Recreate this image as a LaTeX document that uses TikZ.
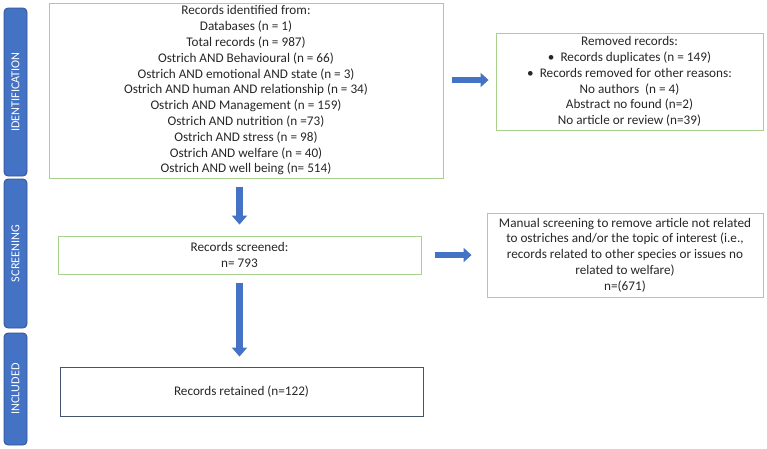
\documentclass[tikz,border=0pt]{standalone}
\usepackage{fontspec}
\setmainfont{Carlito}
\usetikzlibrary{arrows.meta}
\definecolor{arrblue}{HTML}{4472C4}
\definecolor{bandedge}{HTML}{2F528F}
\definecolor{boxgreen}{HTML}{A9D18E}
\definecolor{boxgray}{HTML}{44546A}
\tikzset{
  greenbox/.style={draw=boxgreen, line width=0.9pt, align=center, inner sep=0pt,
    font=\fontsize{13.2}{15.8}\selectfont, text=black!85},
  graybox/.style={greenbox, draw=boxgray},
  band/.style={draw=bandedge, fill=arrblue, line width=0.8pt, rounded corners=4pt,
    rotate=90, minimum height=23pt, inner sep=0pt, text=white,
    font=\fontsize{12.2}{14}\selectfont},
  downarrow/.style={draw=arrblue, line width=7pt,
    -{Triangle[length=9pt,width=15pt]}},
  rightarrow/.style={draw=arrblue, line width=6pt,
    -{Triangle[length=8pt,width=14pt]}},
}
\begin{document}
\begin{tikzpicture}[x=1pt,y=-1pt]
\useasboundingbox (0,0) rectangle (767,448);
% bands
\node[band, minimum width=168pt] (bid) at (15.5,92) {IDENTIFICATION};
\node[band, minimum width=149pt] (bsc) at (15.5,253.5) {SCREENING};
\node[band, minimum width=112pt] (bin) at (15.5,389) {INCLUDED};
% boxes
\node[greenbox, minimum width=394pt, minimum height=175pt] (id) at (246,90.5) {%
Records identified from:\\
Databases (n = 1)\\
Total records (n = 987)\\
Ostrich AND Behavioural (n = 66)\\
Ostrich AND emotional AND state (n = 3)\\
Ostrich AND human AND relationship (n = 34)\\
Ostrich AND Management (n = 159)\\
Ostrich AND nutrition (n =73)\\
Ostrich AND stress (n = 98)\\
Ostrich AND welfare (n = 40)\\
Ostrich AND well being (n= 514)};
\node[greenbox, minimum width=267pt, minimum height=97pt] (rem) at (629.5,81.5) {%
Removed records:\\
\textbullet\ \ Records duplicates (n = 149)\\
\textbullet\ \ Records removed for other reasons:\\
No authors\ \ (n = 4)\\
Abstract no found (n=2)\\
No article or review (n=39)};
\node[greenbox, minimum width=363pt, minimum height=38pt] (scr) at (239.5,255) {%
Records screened:\\ n= 793};
\node[greenbox, minimum width=276pt, minimum height=84pt] (man) at (625,255) {%
Manual screening to remove article not related\\
to ostriches and/or the topic of interest (i.e.,\\
records related to other species or issues no\\
related to welfare)\\
n=(671)};
\node[graybox, minimum width=363pt, minimum height=49pt] (ret) at (241.5,391.5) {%
Records retained (n=122)};
% arrows
\draw[downarrow, shorten <=9pt, shorten >=11pt] (id.south -| scr.north) -- (scr.north);
\draw[downarrow, shorten <=9pt, shorten >=10pt] (scr.south) -- (scr.south |- ret.north);
\draw[rightarrow, shorten <=9pt, shorten >=7pt] ([yshift=1.5pt]rem.west -| id.east) -- ([yshift=1.5pt]rem.west);
\draw[rightarrow, shorten <=14pt, shorten >=15pt] (scr.east) -- (man.west);
\end{tikzpicture}
\end{document}
